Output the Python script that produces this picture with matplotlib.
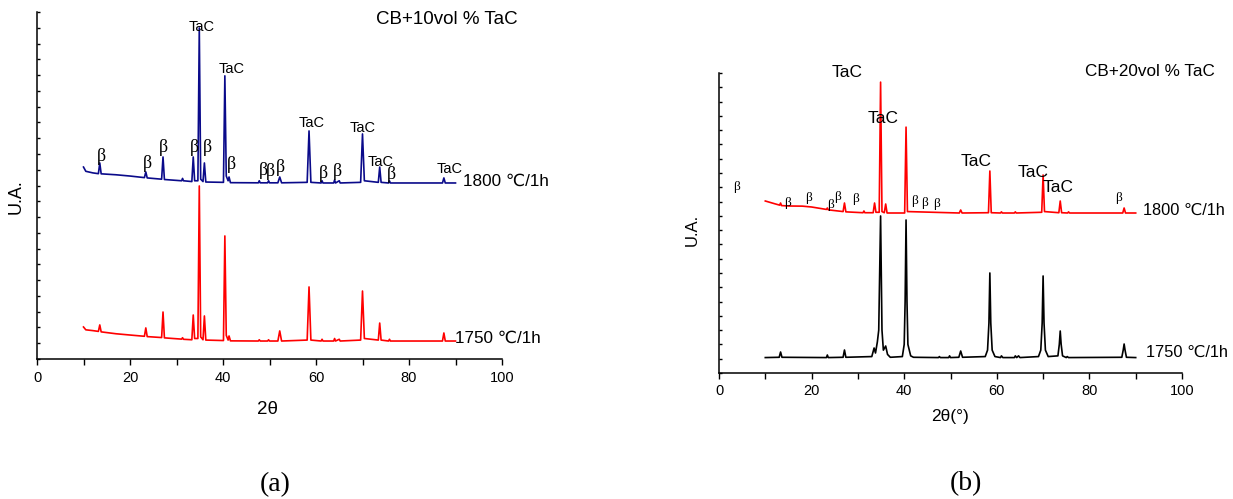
import matplotlib
matplotlib.use("Agg")
import matplotlib.pyplot as plt
from matplotlib.ticker import MultipleLocator, NullFormatter

plt.rcParams['font.family'] = ['Liberation Sans', 'DejaVu Sans']

# ---- (a) CB+10vol% TaC : traced XRD patterns (2theta, intensity in a.u.) ----
a_1800_tt = [10.0, 10.5, 12.0, 13.2, 13.5, 13.8, 17.0, 20.0, 23.1, 23.4, 23.7, 26.8, 27.1, 27.4,
             31.1, 31.3, 31.5, 33.3, 33.6, 33.9, 34.6, 34.9, 35.2, 35.7, 36.0, 36.3, 40.1, 40.4,
             40.7, 41.1, 41.3, 41.6, 47.6, 47.8, 48.0, 49.6, 49.8, 50.0, 51.8, 52.2, 52.6, 58.1,
             58.5, 58.9, 61.1, 61.3, 61.5, 63.8, 64.0, 64.2, 65.0, 65.2, 69.6, 70.0, 70.4, 73.4,
             73.7, 74.0, 75.6, 75.8, 76.0, 87.2, 87.5, 87.8, 90.0]
a_1800_int = [12.17, 11.9, 11.8, 11.75, 12.43, 11.74, 11.68, 11.6, 11.5, 11.86, 11.48, 11.4, 12.81, 11.38,
              11.3, 11.45, 11.3, 11.25, 12.81, 11.3, 11.3, 20.99, 11.4, 11.25, 12.43, 11.22, 11.2, 17.95,
              11.6, 11.3, 11.54, 11.18, 11.17, 11.3, 11.17, 11.17, 11.3, 11.17, 11.17, 11.54, 11.17, 11.2,
              14.46, 11.2, 11.16, 11.3, 11.16, 11.16, 11.35, 11.16, 11.3, 11.16, 11.2, 14.27, 11.3, 11.2,
              12.17, 11.2, 11.16, 11.29, 11.16, 11.16, 11.48, 11.16, 11.16]

a_1750_tt = a_1800_tt
a_1750_int = [2.03, 1.85, 1.8, 1.75, 2.16, 1.72, 1.6, 1.52, 1.44, 1.97, 1.42, 1.36, 2.98, 1.34,
              1.26, 1.35, 1.25, 1.22, 2.79, 1.3, 1.3, 10.97, 1.4, 1.22, 2.73, 1.2, 1.17, 7.80,
              1.5, 1.2, 1.46, 1.15, 1.14, 1.22, 1.14, 1.14, 1.22, 1.14, 1.14, 1.78, 1.14, 1.2,
              4.57, 1.2, 1.14, 1.25, 1.14, 1.14, 1.3, 1.14, 1.25, 1.14, 1.2, 4.31, 1.3, 1.2,
              2.28, 1.2, 1.14, 1.25, 1.14, 1.14, 1.65, 1.14, 1.14]

a_tac_pos = [(35.5, 21.05), (41.9, 18.39), (59.1, 14.97), (70.1, 14.65), (74.0, 12.49), (88.8, 12.05)]
a_beta_pos = [(13.8, 12.81), (23.7, 12.37), (27.1, 13.38), (33.8, 13.44), (36.6, 13.38), (41.9, 12.30),
              (48.6, 11.92), (50.3, 11.86), (52.3, 12.11), (61.5, 11.73), (64.7, 11.86), (76.3, 11.67)]

# ---- (b) CB+20vol% TaC ----
b_1800_tt = [10.0, 12.0, 13.1, 13.3, 13.5, 15.0, 18.0, 20.0, 23.2, 23.4, 23.6, 26.8, 27.1, 27.4,
             31.1, 31.3, 31.5, 33.3, 33.6, 33.9, 34.6, 34.9, 35.2, 35.7, 36.0, 36.3, 40.1, 40.4,
             40.7, 51.9, 52.2, 52.5, 58.2, 58.5, 58.8, 60.8, 61.0, 61.2, 63.8, 64.0, 64.2, 69.7,
             70.0, 70.3, 73.4, 73.7, 74.0, 75.3, 75.5, 75.7, 87.2, 87.5, 87.8, 90.0]
b_1800_int = [12.04, 11.85, 11.75, 11.9, 11.72, 11.69, 11.68, 11.62, 11.45, 11.55, 11.42, 11.3, 11.9, 11.28,
              11.22, 11.34, 11.22, 11.22, 11.9, 11.25, 11.25, 20.36, 11.3, 11.22, 11.83, 11.2, 11.2, 17.21,
              11.3, 11.2, 11.41, 11.2, 11.22, 14.14, 11.22, 11.2, 11.28, 11.2, 11.2, 11.28, 11.2, 11.25,
              13.86, 11.3, 11.22, 12.04, 11.22, 11.2, 11.28, 11.2, 11.2, 11.55, 11.2, 11.2]

b_1750_tt = [10.0, 13.0, 13.3, 13.6, 23.2, 23.4, 23.6, 26.8, 27.1, 27.4, 33.0, 33.5, 33.8, 34.2,
             34.5, 34.9, 35.2, 35.5, 36.0, 36.4, 37.0, 39.6, 40.0, 40.2, 40.4, 40.6, 40.8, 41.4,
             42.0, 47.4, 47.6, 47.8, 49.6, 49.8, 50.0, 51.8, 52.2, 52.6, 57.5, 58.0, 58.3, 58.5,
             58.7, 59.0, 59.6, 60.8, 61.0, 61.3, 63.8, 64.0, 64.3, 64.7, 65.0, 69.0, 69.5, 69.8,
             70.0, 70.2, 70.5, 71.1, 73.2, 73.5, 73.7, 73.9, 74.2, 75.0, 75.2, 75.5, 87.0, 87.3,
             87.5, 87.7, 88.0, 90.0]
b_1750_int = [1.08, 1.1, 1.47, 1.1, 1.08, 1.26, 1.08, 1.1, 1.61, 1.1, 1.15, 1.75, 1.4, 2.17,
              3.0, 10.99, 3.0, 1.6, 1.89, 1.3, 1.1, 1.15, 2.0, 5.0, 10.71, 5.0, 2.0, 1.2,
              1.1, 1.08, 1.15, 1.08, 1.08, 1.2, 1.08, 1.1, 1.54, 1.1, 1.15, 1.6, 3.5, 7.0,
              3.5, 1.6, 1.15, 1.08, 1.2, 1.08, 1.08, 1.2, 1.08, 1.2, 1.08, 1.15, 1.6, 3.5,
              6.79, 3.5, 1.6, 1.15, 1.2, 2.0, 2.94, 2.0, 1.2, 1.08, 1.15, 1.08, 1.1, 1.6,
              2.03, 1.6, 1.1, 1.08]

b_tac_pos = [(27.6, 21.06), (35.4, 17.84), (55.5, 14.77), (67.8, 14.0), (73.2, 12.95)]
b_beta_pos = [(3.9, 13.02), (14.9, 11.9), (19.4, 12.25), (24.2, 11.76), (25.7, 12.32), (29.6, 12.18),
              (42.3, 12.04), (44.5, 11.9), (46.9, 11.83), (86.2, 12.25)]

W, H = 1233, 499
fig = plt.figure(figsize=(W / 100, H / 100), dpi=100)
ax1 = fig.add_axes([37 / W, 1 - 359 / H, 465 / W, 347 / H])
ax2 = fig.add_axes([719 / W, 1 - 373 / H, 463 / W, 300 / H])


def style_axis(ax, ytop, ticksize, pad):
    ax.set_xlim(0, 100)
    ax.set_ylim(0, ytop)
    for s in ['top', 'right']:
        ax.spines[s].set_visible(False)
    for s in ['left', 'bottom']:
        ax.spines[s].set_linewidth(1.1)
    ax.set_xticks(range(0, 101, 20))
    ax.xaxis.set_minor_locator(MultipleLocator(10))
    ax.yaxis.set_major_locator(MultipleLocator(1))
    ax.yaxis.set_major_formatter(NullFormatter())
    ax.tick_params(axis='x', which='both', direction='out', length=4, width=1, labelsize=ticksize, pad=pad)
    ax.tick_params(axis='y', which='both', direction='in', length=2.5, width=1)
    ax.set_facecolor('none')


style_axis(ax1, 22, 10.5, 5)
style_axis(ax2, 21, 10.5, 4)

# panel (a)
ax1.plot(a_1800_tt, a_1800_int, color='#0a0a8a', lw=1.2)
ax1.plot(a_1750_tt, a_1750_int, color='#ff0000', lw=1.2)
for x, y in a_tac_pos:
    ax1.text(x, y, 'TaC', fontsize=10.5, ha='center', va='center')
for x, y in a_beta_pos:
    ax1.text(x, y, 'β', fontsize=13, ha='center', va='center', family='Liberation Serif')
ax1.text(72.9, 21.5, 'CB+10vol % TaC', fontsize=13.5, ha='left', va='center')
ax1.text(91.6, 11.29, '1800 ℃/1h', fontsize=12.3, ha='left', va='center')
ax1.text(89.9, 1.33, '1750 ℃/1h', fontsize=12.3, ha='left', va='center')

# panel (b)
ax2.plot(b_1800_tt, b_1800_int, color='#ff0000', lw=1.2)
ax2.plot(b_1750_tt, b_1750_int, color='black', lw=1.2)
for x, y in b_tac_pos:
    ax2.text(x, y, 'TaC', fontsize=12.5, ha='center', va='center')
for x, y in b_beta_pos:
    ax2.text(x, y, 'β', fontsize=9.5, ha='center', va='center', family='Liberation Serif')
ax2.text(79.0, 21.13, 'CB+20vol % TaC', fontsize=12.3, ha='left', va='center')
ax2.text(91.6, 11.41, '1800 ℃/1h', fontsize=11.8, ha='left', va='center')
ax2.text(92.2, 1.47, '1750 ℃/1h', fontsize=11.8, ha='left', va='center')

# axis labels and panel captions
fig.text(16 / W, 1 - 197 / H, 'U.A.', rotation=90, fontsize=13, ha='center', va='center')
fig.text(692 / W, 1 - 230 / H, 'U.A.', rotation=90, fontsize=12, ha='center', va='center')
fig.text(268 / W, 1 - 410 / H, '2θ', fontsize=13.5, ha='center', va='center')
fig.text(950 / W, 1 - 416 / H, '2θ(°)', fontsize=12.5, ha='center', va='center')
fig.text(275 / W, 1 - 485 / H, '(a)', fontsize=20, ha='center', va='center', family='Liberation Serif')
fig.text(966 / W, 1 - 484 / H, '(b)', fontsize=20, ha='center', va='center', family='Liberation Serif')

fig.savefig('out.png', dpi=100)
